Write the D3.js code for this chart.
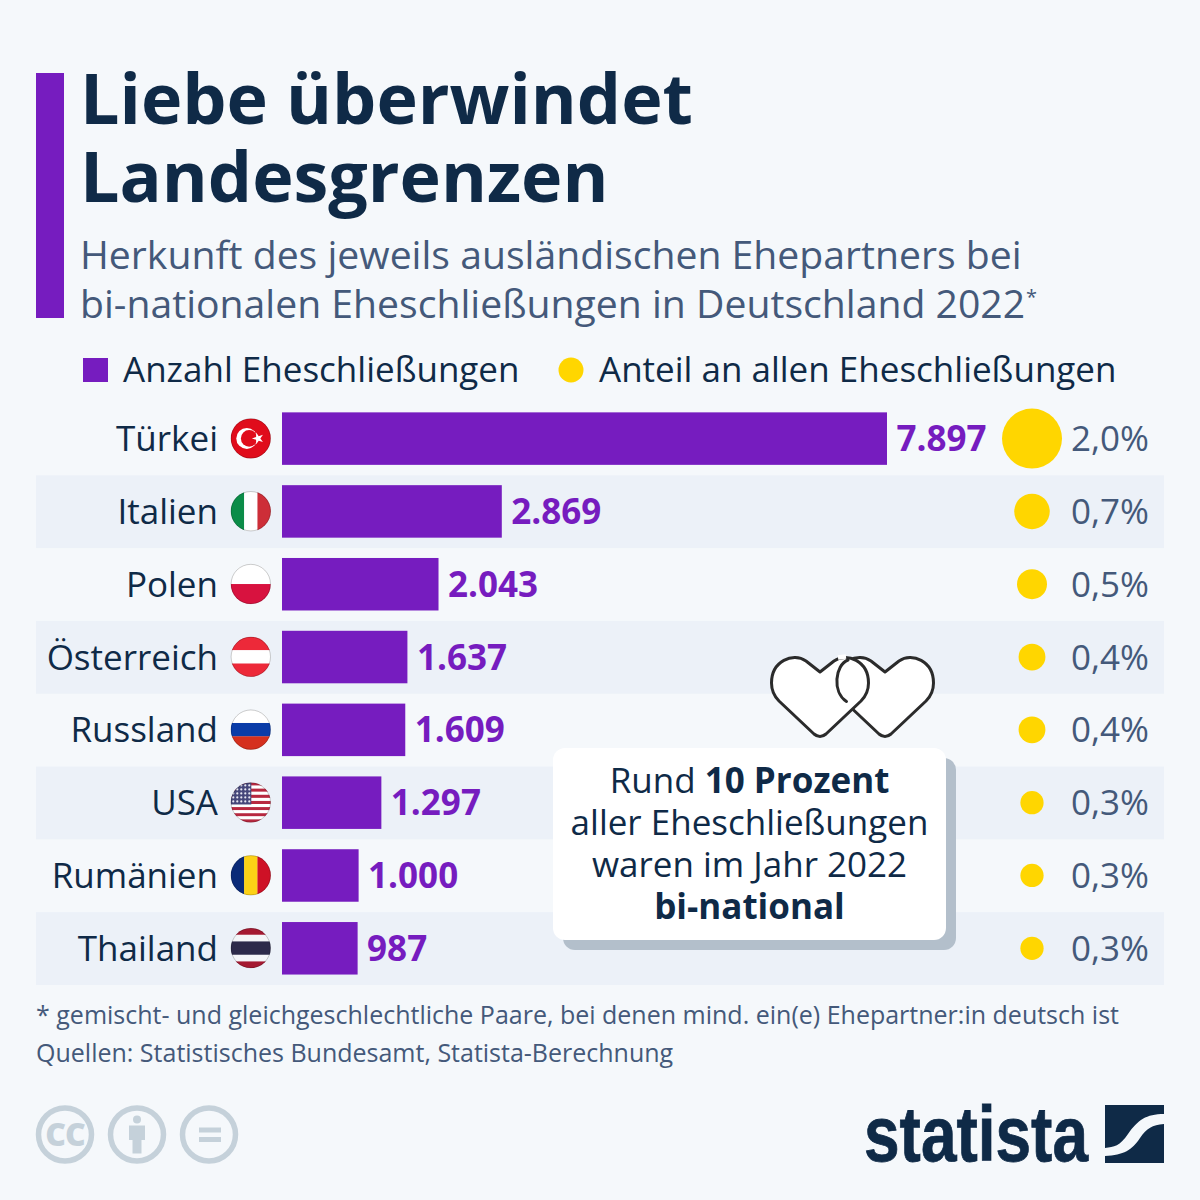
<!DOCTYPE html>
<html><head><meta charset="utf-8">
<script src="https://cdnjs.cloudflare.com/ajax/libs/d3/7.8.5/d3.min.js"></script>
<style>html,body{margin:0;padding:0;background:#f5f8fb}svg{display:block}text{font-family:"Open Sans",sans-serif}</style>
</head><body><svg id="c" width="1200" height="1200"></svg>
<script>
const countries=["Türkei","Italien","Polen","Österreich","Russland","USA","Rumänien","Thailand"];
const counts=[7897,2869,2043,1637,1609,1297,1000,987];
const countLabels=["7.897","2.869","2.043","1.637","1.609","1.297","1.000","987"];
const shares=[2.0,0.7,0.5,0.4,0.4,0.3,0.3,0.3];
const shareLabels=["2,0%","0,7%","0,5%","0,4%","0,4%","0,3%","0,3%","0,3%"];
const titleLines=["Liebe überwindet","Landesgrenzen"];
const subtitleLines=["Herkunft des jeweils ausländischen Ehepartners bei","bi-nationalen Eheschließungen in Deutschland 2022"];
const footnotes=["* gemischt- und gleichgeschlechtliche Paare, bei denen mind. ein(e) Ehepartner:in deutsch ist","Quellen: Statistisches Bundesamt, Statista-Berechnung"];
const NAVY="#0f2a47",PURPLE="#761cbf",YELLOW="#ffd600",BAND="#ecf1f8",GREY="#44597a";
const FS=35;
const svg=d3.select("#c");
svg.append("rect").attr("width",1200).attr("height",1200).attr("fill","#f5f8fb");
const x=d3.scaleLinear().domain([0,7897]).range([282,887]);
const y=d3.scaleBand().domain(countries).range([402.5,985]).paddingInner(0).paddingOuter(0);
const r=d3.scaleSqrt().domain([0,2]).range([0,30]);
const defs=svg.append("defs");
// header
svg.append("rect").attr("x",36).attr("y",73).attr("width",28).attr("height",245).attr("fill",PURPLE);
svg.selectAll(".t").data(titleLines).join("text").attr("x",80).attr("y",(d,i)=>124+i*78)
 .attr("font-size",70).attr("font-weight",700).attr("fill",NAVY).text(d=>d);
svg.selectAll(".s").data(subtitleLines).join("text").attr("x",80).attr("y",(d,i)=>269+i*48.5)
 .attr("font-size",39.15).attr("fill",GREY).text(d=>d);
svg.append("text").attr("x",1026).attr("y",304).attr("font-size",20).attr("fill",GREY).text("*");
// legend
svg.append("rect").attr("x",83).attr("y",358).attr("width",25).attr("height",24).attr("fill",PURPLE);
svg.append("text").attr("x",123).attr("y",382).attr("font-size",FS).attr("fill",NAVY).text("Anzahl Eheschließungen");
svg.append("circle").attr("cx",571).attr("cy",370).attr("r",12.5).attr("fill",YELLOW);
svg.append("text").attr("x",599).attr("y",382).attr("font-size",FS).attr("fill",NAVY).text("Anteil an allen Eheschließungen");
// bands
svg.selectAll(".band").data(countries.filter((d,i)=>i%2==1)).join("rect")
 .attr("x",36).attr("width",1128).attr("y",d=>y(d)).attr("height",y.bandwidth()).attr("fill",BAND);
const cy=d=>y(d)+y.bandwidth()/2;
// labels
svg.selectAll(".lab").data(countries).join("text").attr("x",218).attr("y",d=>cy(d)+12.3)
 .attr("text-anchor","end").attr("font-size",FS).attr("fill",NAVY).text(d=>d);
// flags
const FR=20,FX=250.8;
const flags=[
 {k:"h",s:[["#e00c1b",1]]},
 {k:"v",s:[["#0b8c48",1],["#fff",1],["#cd2e38",1]]},
 {k:"h",s:[["#fff",1],["#d8123f",1]]},
 {k:"h",s:[["#ed2939",1],["#fff",1],["#ed2939",1]]},
 {k:"h",s:[["#fff",1],["#0a3ca8",1],["#d5301e",1]]},
 {k:"h",s:[["#b8283f",1],["#fff",1],["#b8283f",1],["#fff",1],["#b8283f",1],["#fff",1],["#b8283f",1],["#fff",1],["#b8283f",1],["#fff",1],["#b8283f",1],["#fff",1],["#b8283f",1]]},
 {k:"v",s:[["#0a2a78",1],["#fcd116",1],["#ce1126",1]]},
 {k:"h",s:[["#a51931",1],["#f4f5f8",1],["#2d2a4a",2],["#f4f5f8",1],["#a51931",1]]}
];
countries.forEach((c,i)=>{
 const id="f"+i,cyy=cy(c)-0.5;
 defs.append("clipPath").attr("id",id).append("circle").attr("cx",FX).attr("cy",cyy).attr("r",FR);
 const g=svg.append("g").attr("clip-path",`url(#${id})`);
 const f=flags[i],tot=d3.sum(f.s,d=>d[1]);let p=0;
 f.s.forEach(([col,w])=>{const a=p/tot*2*FR,b=w/tot*2*FR;p+=w;
  if(f.k=="h")g.append("rect").attr("x",FX-FR).attr("width",2*FR).attr("y",cyy-FR+a).attr("height",b+0.2).attr("fill",col);
  else g.append("rect").attr("y",cyy-FR).attr("height",2*FR).attr("x",FX-FR+a).attr("width",b+0.2).attr("fill",col);});
 if(i==0){
  g.append("circle").attr("cx",FX-4).attr("cy",cyy).attr("r",10.5).attr("fill","#fff");
  g.append("circle").attr("cx",FX-1.6).attr("cy",cyy).attr("r",8.3).attr("fill","#e00c1b");
  g.append("path").attr("d",d3.symbol(d3.symbolStar,42)()).attr("transform",`translate(${FX+7.2},${cyy}) rotate(-18)`).attr("fill","#fff");
 }
 if(i==5){
  g.append("rect").attr("x",FX-FR).attr("y",cyy-FR).attr("width",20.5).attr("height",22).attr("fill","#46477a");
  d3.range(5).forEach(a=>d3.range(5).forEach(b=>g.append("circle").attr("cx",FX-FR+2.5+a*4).attr("cy",cyy-FR+3+b*4).attr("r",1.1).attr("fill","#e8e8f2")));
 }
 svg.append("circle").attr("cx",FX).attr("cy",cyy).attr("r",FR-0.3).attr("fill","none").attr("stroke","#000").attr("stroke-opacity",.2).attr("stroke-width",1);
});
// bars
const BH=52.5;
svg.selectAll(".bar").data(countries).join("rect").attr("x",x(0)).attr("y",d=>cy(d)-BH/2-0.3)
 .attr("height",BH).attr("width",(d,i)=>x(counts[i])-x(0)).attr("fill",PURPLE);
svg.selectAll(".val").data(countries).join("text").attr("x",(d,i)=>x(counts[i])+9.5).attr("y",d=>cy(d)+12.3)
 .attr("font-size",FS).attr("font-weight",700).attr("fill",PURPLE).text((d,i)=>countLabels[i]);
// bubbles
svg.selectAll(".bub").data(countries).join("circle").attr("cx",1032).attr("cy",d=>cy(d)-0.3)
 .attr("r",(d,i)=>r(shares[i])).attr("fill",YELLOW);
svg.selectAll(".sh").data(countries).join("text").attr("x",1071).attr("y",d=>cy(d)+12.3)
 .attr("font-size",FS).attr("fill",GREY).text((d,i)=>shareLabels[i]);
// callout
svg.append("rect").attr("x",563).attr("y",758).attr("width",393).attr("height",192).attr("rx",12).attr("fill","#b3bfcb");
svg.append("rect").attr("x",553).attr("y",748).attr("width",393).attr("height",192).attr("rx",12).attr("fill","#fff");
const callout=[[["Rund ",400],["10 Prozent",700]],[["aller Eheschließungen",400]],[["waren im Jahr 2022",400]],[["bi-national",700]]];
callout.forEach((ln,i)=>{const t=svg.append("text").attr("x",749.5).attr("y",793+i*42).attr("text-anchor","middle").attr("font-size",FS).attr("fill",NAVY);
 ln.forEach(([s,w])=>t.append("tspan").attr("font-weight",w).text(s));});
// hearts
const heart=(cx,top)=>`M${cx} ${top+15} L${cx+14} ${top+4} C${cx+27} ${top-5} ${cx+48.5} ${top+4} ${cx+48.5} ${top+26} C${cx+48.5} ${top+34} ${cx+45} ${top+40} ${cx+41} ${top+44} L${cx+6} ${top+77} Q${cx} ${top+82} ${cx-6} ${top+77} L${cx-41} ${top+44} C${cx-45} ${top+40} ${cx-48.5} ${top+34} ${cx-48.5} ${top+26} C${cx-48.5} ${top+4} ${cx-27} ${top-5} ${cx-14} ${top+4} Z`;
svg.append("path").attr("d",heart(885,657)).attr("fill","#fff").attr("stroke","#2b2b2b").attr("stroke-width",3).attr("stroke-linejoin","round");
svg.append("path").attr("d",heart(820,657)).attr("fill","#fff").attr("stroke","#2b2b2b").attr("stroke-width",3).attr("stroke-linejoin","round");
svg.append("path").attr("d","M838 657.5 L846 656.5").attr("fill","none").attr("stroke","#fff").attr("stroke-width",4.5);
svg.append("path").attr("d","M848 660 C835 665 832 692 846.5 701.5").attr("fill","none").attr("stroke","#2b2b2b").attr("stroke-width",3).attr("stroke-linecap","round");
// footnotes
svg.selectAll(".fn").data(footnotes).join("text").attr("x",36).attr("y",(d,i)=>1024+i*38)
 .attr("font-size",25).attr("fill",GREY).text(d=>d);
// cc icons
[65,137,209].forEach(cx=>svg.append("circle").attr("cx",cx).attr("cy",1134.5).attr("r",26.5).attr("fill","none").attr("stroke","#c5d1da").attr("stroke-width",5.5));
svg.append("text").attr("x",65).attr("y",1146).attr("text-anchor","middle").attr("font-size",32).attr("font-weight",800).attr("letter-spacing",-1).attr("fill","#c5d1da").text("CC");
svg.append("circle").attr("cx",137).attr("cy",1119.5).attr("r",4).attr("fill","#c5d1da");
svg.append("path").attr("d","M129 1125.5H145V1140H141.5V1153.5H132.5V1140H129Z").attr("fill","#c5d1da");
svg.append("rect").attr("x",199).attr("y",1127.5).attr("width",22).attr("height",5).attr("fill","#c5d1da");
svg.append("rect").attr("x",199).attr("y",1137).attr("width",22).attr("height",5).attr("fill","#c5d1da");
// logo
svg.append("text").attr("x",864).attr("y",1161).attr("textLength",224).attr("lengthAdjust","spacingAndGlyphs").attr("font-size",78)
 .attr("font-weight",700).attr("stroke",NAVY).attr("stroke-width",0.8).style("font-family","'Liberation Sans Narrow','Liberation Sans',sans-serif").attr("fill",NAVY).text("statista");
svg.append("path").attr("fill",NAVY).attr("d","M1105 1105H1164V1114C1146 1114 1138 1120 1128 1134C1120 1146 1114 1147 1105 1148Z");
svg.append("path").attr("fill",NAVY).attr("d","M1164 1124V1163H1105V1156C1124 1155 1132 1150 1140 1138C1147 1128 1152 1125 1164 1124Z");
</script></body></html>
